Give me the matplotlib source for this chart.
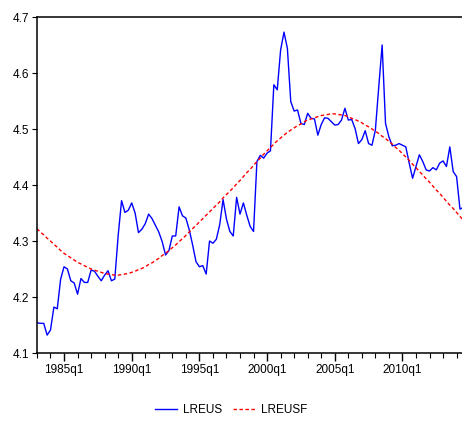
import matplotlib
matplotlib.use("Agg")
import matplotlib.pyplot as plt
from matplotlib.ticker import FixedLocator

plt.rcParams['font.family'] = ['Liberation Sans', 'DejaVu Sans']

# quarterly observations 1983q1 .. 2014q3
quarters = [f"{y}q{q}" for y in range(1983, 2015) for q in range(1, 5)][:127]

lreus = [
    4.154, 4.153, 4.153, 4.132, 4.141, 4.182, 4.179, 4.232, 4.254, 4.250,
    4.229, 4.225, 4.205, 4.233, 4.226, 4.226, 4.248, 4.246, 4.237, 4.229,
    4.239, 4.247, 4.229, 4.232, 4.310, 4.372, 4.351, 4.355, 4.368, 4.350,
    4.315, 4.321, 4.331, 4.348, 4.340, 4.328, 4.316, 4.299, 4.275, 4.283,
    4.309, 4.309, 4.361, 4.345, 4.341, 4.320, 4.293, 4.263, 4.254, 4.256,
    4.241, 4.300, 4.296, 4.303, 4.329, 4.374, 4.339, 4.317, 4.309, 4.378,
    4.348, 4.368, 4.346, 4.326, 4.317, 4.442, 4.453, 4.448, 4.457, 4.461,
    4.579, 4.570, 4.641, 4.673, 4.644, 4.549, 4.532, 4.534, 4.510, 4.508,
    4.528, 4.519, 4.518, 4.489, 4.508, 4.520, 4.519, 4.513, 4.507, 4.508,
    4.516, 4.537, 4.516, 4.517, 4.501, 4.474, 4.481, 4.497, 4.474, 4.471,
    4.498, 4.575, 4.650, 4.510, 4.486, 4.470, 4.471, 4.474, 4.471, 4.468,
    4.439, 4.412, 4.433, 4.454, 4.442, 4.427, 4.425, 4.431, 4.427, 4.439,
    4.443, 4.433, 4.468, 4.424, 4.415, 4.357, 4.360,
]

lreusf = [
    4.322, 4.316, 4.311, 4.305, 4.300, 4.294, 4.289, 4.283, 4.278, 4.274,
    4.270, 4.266, 4.262, 4.259, 4.256, 4.253, 4.250, 4.248, 4.246, 4.244,
    4.242, 4.241, 4.240, 4.239, 4.239, 4.240, 4.241, 4.242, 4.244, 4.246,
    4.249, 4.251, 4.254, 4.258, 4.261, 4.265, 4.269, 4.274, 4.278, 4.283,
    4.288, 4.293, 4.299, 4.304, 4.310, 4.316, 4.322, 4.328, 4.334, 4.340,
    4.346, 4.352, 4.358, 4.364, 4.370, 4.377, 4.383, 4.389, 4.395, 4.402,
    4.408, 4.415, 4.422, 4.428, 4.435, 4.442, 4.448, 4.455, 4.461, 4.467,
    4.473, 4.479, 4.484, 4.489, 4.494, 4.498, 4.502, 4.506, 4.509, 4.513,
    4.516, 4.518, 4.520, 4.522, 4.524, 4.525, 4.526, 4.527, 4.527, 4.526,
    4.525, 4.524, 4.522, 4.519, 4.517, 4.514, 4.511, 4.507, 4.504, 4.500,
    4.496, 4.492, 4.487, 4.483, 4.478, 4.473, 4.467, 4.462, 4.456, 4.450,
    4.444, 4.437, 4.431, 4.424, 4.418, 4.411, 4.405, 4.398, 4.391, 4.385,
    4.378, 4.371, 4.364, 4.358, 4.351, 4.344, 4.337,
]

tick_labels = ["1985q1", "1990q1", "1995q1", "2000q1", "2005q1", "2010q1"]
y_ticks = [4.1, 4.2, 4.3, 4.4, 4.5, 4.6, 4.7]

x = list(range(len(quarters)))
major_pos = [quarters.index(t) for t in tick_labels]
minor_pos = [i for i, q in enumerate(quarters) if q.endswith("q1")]

fig = plt.figure(figsize=(4.62, 4.25), dpi=100)
ax = fig.add_axes([0.080, 0.1694, 0.920, 0.7906])

ax.plot(x, lreus, color='#0000FF', lw=1.0, label='LREUS')
ax.plot(x, lreusf, color='#FF0000', lw=1.0, linestyle=(0, (2.5, 1.8)), label='LREUSF')

ax.set_xlim(0, 125.6)
ax.set_ylim(4.1, 4.7)
ax.set_yticks(y_ticks)
ax.set_yticklabels([f"{v:.1f}" for v in y_ticks])
ax.set_xticks(major_pos)
ax.set_xticklabels(tick_labels)
ax.xaxis.set_minor_locator(FixedLocator(minor_pos))

ax.tick_params(axis='x', which='major', direction='out', length=6, width=1, pad=2, labelsize=8.5)
ax.tick_params(axis='x', which='minor', direction='out', length=3.5, width=0.8)
ax.tick_params(axis='y', direction='out', length=3.5, width=0.8, pad=2, labelsize=8.5)

ax.spines['right'].set_visible(False)
for s in ('left', 'bottom', 'top'):
    ax.spines[s].set_linewidth(1.1)
    ax.spines[s].set_color('black')

fig.legend(loc='center', bbox_to_anchor=(0.5, 0.035), ncol=2, frameon=False,
           fontsize=8.5, handlelength=1.9, handletextpad=0.5, columnspacing=0.9)

fig.savefig('out.png', dpi=100)
